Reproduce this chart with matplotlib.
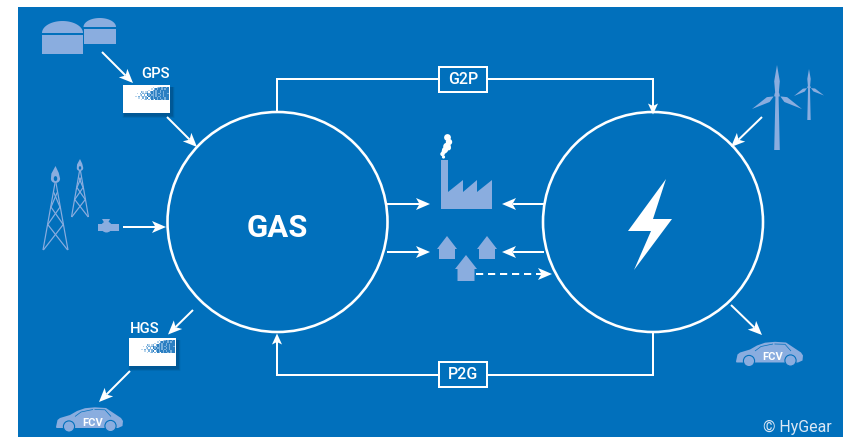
import numpy as np
import matplotlib
matplotlib.use("Agg")
import matplotlib.pyplot as plt
from matplotlib.patches import Polygon, Circle, Rectangle, Ellipse

W, H = 843, 437
BLUE = "#0170BC"
LIGHT = "#8AADDF"
WHITE = "#FFFFFF"

hub_labels = ["GAS"]
link_labels = ["G2P", "P2G"]
station_labels = ["GPS", "HGS"]
car_label = "FCV"
credit = "© HyGear"

plt.rcParams["font.family"] = ["Roboto", "DejaVu Sans"]

fig = plt.figure(figsize=(W / 100, H / 100), dpi=100, facecolor="white")
ax = fig.add_axes([0, 0, 1, 1])
ax.set_xlim(0, W)
ax.set_ylim(H, 0)
ax.axis("off")

PX = 0.72  # points per pixel


def poly(pts, color=LIGHT, z=3, **kw):
    ax.add_patch(Polygon(pts, closed=True, facecolor=color, edgecolor="none", zorder=z, **kw))


def line(pts, color=WHITE, w=2.0, z=4, **kw):
    pts = np.array(pts, dtype=float)
    ax.plot(pts[:, 0], pts[:, 1], color=color, lw=w * PX, zorder=z,
            solid_capstyle="butt", solid_joinstyle="miter", **kw)


def arrow(x0, y0, x1, y1, dashed=False, L=14, HW=6, notch=3.5, w=2.0):
    d = np.array([x1 - x0, y1 - y0], dtype=float)
    d /= np.hypot(*d)
    n = np.array([-d[1], d[0]])
    tip = np.array([x1, y1], dtype=float)
    base = tip - d * L
    neck = tip - d * (L - notch)
    if dashed:
        ax.plot([x0, neck[0]], [y0, neck[1]], color=WHITE, lw=w * PX, zorder=4,
                dashes=(3.6, 2.4), dash_capstyle="butt")
    else:
        line([(x0, y0), tuple(neck)], w=w)
    poly([tip, base + n * HW, neck, base - n * HW], color=WHITE, z=5)


def label(x, y, s, size, color=WHITE, weight="medium", z=6, **kw):
    ax.text(x, y, s, fontsize=size, color=color, fontweight=weight, ha="center",
            va="center", zorder=z, **kw)


# background panel
ax.add_patch(Rectangle((18, 7), W - 18, H - 7, facecolor=BLUE, edgecolor="none", zorder=1))

# main circles
for cx in (277.5, 653):
    ax.add_patch(Circle((cx, 222), 110, facecolor="none", edgecolor=WHITE, lw=2.6 * PX, zorder=4))

label(277.5, 228, hub_labels[0], 22.4, weight="bold")

# bolt
poly([(666, 179), (628, 231), (651, 231), (634, 270), (672, 219), (653, 219)], color=WHITE)

# G2P / P2G loops
line([(277, 112), (277, 79), (653, 79), (653, 104)])
arrow(653, 100, 653, 114.5, L=11, HW=5, notch=2.5)
line([(653, 332), (653, 375), (277, 375), (277, 350)])
arrow(277, 352, 277, 333.5, L=11, HW=5, notch=2.5)
for (x0, y0), s in zip([(439, 67), (439, 362)], link_labels):
    ax.add_patch(Rectangle((x0, y0), 48, 25, facecolor=BLUE, edgecolor=WHITE,
                           lw=2.0 * PX, zorder=5))
    label(x0 + 24, y0 + 12.8, s, 11.4)

# biogas tanks
for x0, x1, top, mid, bot in [(42, 83, 21, 34, 54), (83.5, 116, 18, 28, 44)]:
    t = np.linspace(np.pi, 2 * np.pi, 40)
    cx, rx = (x0 + x1) / 2, (x1 - x0) / 2
    dome = np.c_[cx + rx * np.cos(t), mid - 1 + (mid - 1 - top) * np.sin(t)]
    poly(dome)
    ax.add_patch(Rectangle((x0, mid + 0.5), x1 - x0, bot - mid - 0.5, facecolor=LIGHT,
                           edgecolor="none", zorder=3))


def station(x0, y0, pattern):
    for k, a in zip((6, 5, 4, 3, 2), (0.05, 0.07, 0.09, 0.11, 0.13)):
        ax.add_patch(Rectangle((x0 + 2 - k / 2, y0 + 2), 46.5 + k, 28 + k / 2, facecolor="#00365f",
                               alpha=a, edgecolor="none", zorder=2))
    ax.add_patch(Rectangle((x0, y0), 46.5, 28, facecolor=WHITE, edgecolor="none", zorder=3))
    cell = 1.45
    for r, row in enumerate(pattern):
        for c, ch in enumerate(row):
            if ch != ".":
                col = {"#": "#2C7FC2", "+": "#7AB0DC", "-": "#B9D5EC"}[ch]
                ax.add_patch(Rectangle((x0 + 45.5 - (len(row) - c) * cell, y0 + 2 + r * cell),
                                       cell, cell, facecolor=col,
                                       edgecolor="none", zorder=4))


pattern = [
    ".............-..-+#+##+#",
    "............-.+#+##+#+##",
    "..........-..+#+##+#####",
    ".....+-.-+.+#+#+##+#+###",
    "..-.+.+-+#+-#+#+#+##+##+",
    "....-+.+.#+#++#+##+#+###",
    ".-.+.-+-+.#+#+#+#+##+###",
    "...-..+.+#.+#+##+#+##+##",
    ".....-.-+.+.#+.#+##+#+##",
]
station(123, 85, pattern)
station(129, 338, pattern)
label(155, 74.5, station_labels[0], 10.6)
label(144.5, 329, station_labels[1], 10.6)

arrow(102, 52, 133, 83)
arrow(167, 117, 197, 147)
arrow(193, 310, 168, 334.5)
arrow(130, 371, 99, 402)


# gas towers
def tower(x, top, bot, half, fl_top):
    w = lambda y: half * (y - top) / (bot - top)
    lw = 1.2
    line([(x - 0.5, top), (x - half, bot)], color=LIGHT, w=lw, z=3)
    line([(x + 0.5, top), (x + half, bot)], color=LIGHT, w=lw, z=3)
    ys = [top + (bot - top) * f for f in (0.14, 0.36, 0.62)]
    for y0, y1 in zip(ys[:-1], ys[1:]):
        line([(x - w(y0), y0), (x + w(y1), y1)], color=LIGHT, w=lw, z=3)
        line([(x + w(y0), y0), (x - w(y1), y1)], color=LIGHT, w=lw, z=3)
    line([(x - w(ys[-1]), ys[-1]), (x + half * 0.97, bot)], color=LIGHT, w=lw, z=3)
    line([(x + w(ys[-1]), ys[-1]), (x - half * 0.97, bot)], color=LIGHT, w=lw, z=3)
    h = top - fl_top
    r = h * 0.27
    flame = [(x + r * np.cos(a), top - r * 0.9 + r * 0.9 * np.sin(a)) for a in np.linspace(-0.1, np.pi + 0.1, 16)]
    flame += [(x - r * 0.9, top - h * 0.55), (x, fl_top), (x + r * 0.7, top - h * 0.6)]
    poly(flame)
    ax.add_patch(Ellipse((x, top - r * 0.95), r * 0.75, r * 1.1, facecolor=BLUE, edgecolor="none", zorder=4))


tower(55.5, 183, 250, 12.5, 166)
tower(80, 171, 217, 8.5, 159)

# valve
poly([(102, 219), (110, 219), (107.5, 224), (107.5, 226), (105, 226), (105, 224)])
ax.add_patch(Rectangle((98, 223.5), 21, 7, facecolor=LIGHT, edgecolor="none", zorder=3))
ax.add_patch(Circle((106.5, 227), 5.5, facecolor=LIGHT, edgecolor="none", zorder=3))
arrow(123, 227, 166, 227)

# factory
poly([(441, 160), (448, 160), (448, 192), (463, 180), (463, 192), (477, 180), (477, 192),
      (492, 180), (492, 209), (441, 209)])
for cx, cy, r in [(447.5, 137.5, 3.4), (449, 142, 3.2), (447, 146.5, 3.8), (445, 150, 3),
                  (448.5, 148, 2.4), (442.5, 154, 2.2), (443.5, 157, 1.6), (444, 151.5, 2.4)]:
    ax.add_patch(Circle((cx, cy), r, facecolor=WHITE, edgecolor="none", zorder=3))


# houses
def house(cx, peak, eave, bot, roof, body):
    poly([(cx, peak), (cx + roof, eave), (cx + body, eave), (cx + body, bot),
          (cx - body, bot), (cx - body, eave), (cx - roof, eave)])


house(447, 236, 249, 259, 10, 8)
house(487, 236, 249, 259, 10, 8)
house(466, 255, 269, 281, 11, 8.5)

arrow(387, 204, 430, 204)
arrow(544, 204, 502, 204)
arrow(387, 252, 430, 252)
arrow(544, 252, 502, 252)
arrow(476, 274, 552, 274, dashed=True)


# wind turbines
def turbine(x, y, bot, up, lft, rgt, tw):
    poly([(x - tw * 0.55, y), (x + tw * 0.55, y), (x + tw, bot), (x - tw, bot)])
    k = tw * 1.0
    poly([(x, up), (x + k, y - (y - up) * 0.45), (x + k * 0.6, y), (x - k * 0.6, y), (x - k, y - (y - up) * 0.45)])
    for tx, ty in (lft, rgt):
        d = np.array([tx - x, ty - y], float)
        n = np.array([-d[1], d[0]]) / np.hypot(*d)
        m = np.array([x, y]) + d * 0.35
        poly([(x - n[0] * k * 0.6, y - n[1] * k * 0.6), m + n * k * 1.0, (tx, ty), m - n * k * 1.0,
              (x + n[0] * k * 0.6, y + n[1] * k * 0.6)])
    ax.add_patch(Circle((x, y), k * 0.9, facecolor=LIGHT, edgecolor="none", zorder=3))


turbine(777, 94.5, 150, 65, (752, 109), (802, 109), 2.8)
turbine(809, 87, 120, 69, (794, 96), (824, 95.5), 1.7)
arrow(762, 117, 731, 147)
arrow(731, 305, 762, 335)

# cars
car_body = [(0, 20), (1.5, 13), (4, 11), (14, 8), (21, 4), (29, 1.2), (39, 0.3), (50, 1), (59, 7),
            (65, 11), (67, 14), (66.5, 19), (62, 21), (0.5, 21)]
car_window = [(19, 9.5), (25, 5), (37, 2.5), (37, 9.5)]
car_window2 = [(38.5, 2.5), (49, 2.8), (55, 9.5), (38.5, 9.5)]
wheels = [(13, 19.5), (54.5, 19)]


def car(dx, dy):
    poly([(x + dx, y + dy) for x, y in car_body])
    for win in (car_window, car_window2):
        pts = [(x + dx, y + dy) for x, y in win[:3]]
        line(pts, color=BLUE, w=0.7, z=4)
    for wx, wy in wheels:
        ax.add_patch(Circle((wx + dx, wy + dy), 5.6, facecolor=LIGHT, edgecolor=BLUE,
                            lw=1.1 * PX, zorder=4))
    label(dx + 37, dy + 15.5, car_label, 8, weight="bold", z=6)


car(56, 407)
car(736, 341.5)

ax.text(797, 427, credit, fontsize=11.4, color="#DCE8F5", ha="center", va="center", zorder=6,
        fontweight="normal")

fig.savefig("out.png", dpi=100, facecolor="white")
